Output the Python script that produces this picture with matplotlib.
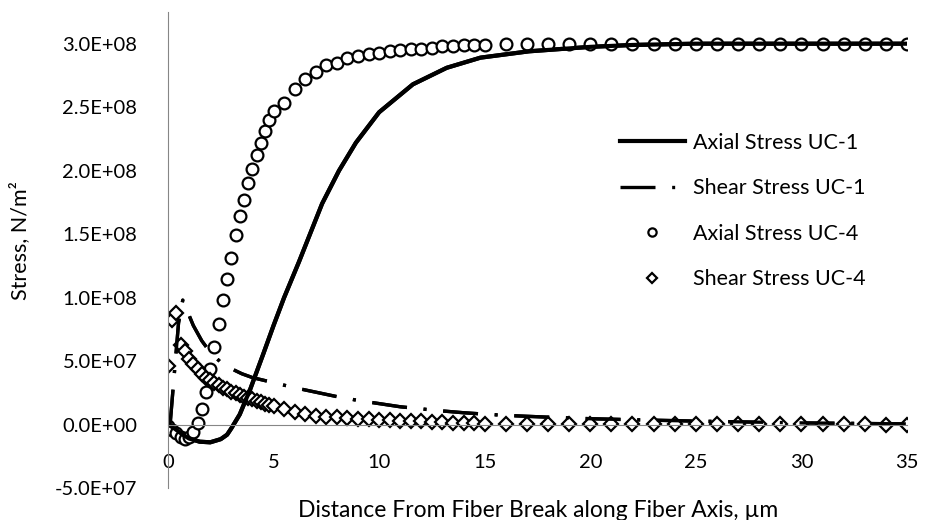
import numpy as np
from matplotlib import pyplot as plt
from matplotlib.ticker import FuncFormatter, MultipleLocator

plt.rcParams['font.family'] = ['Lato', 'DejaVu Sans']

# Axial stress UC-1 (solid line), stress in N/m^2
axial1_x = [0, 0.3, 0.7, 1.0, 1.5, 2.0, 2.5, 2.8, 3.0, 3.4, 3.9, 4.5, 5.0, 5.5,
            6.2, 7.3, 8.1, 8.9, 10.0, 11.6, 13.2, 14.8, 17.1, 20, 22, 25, 30, 35]
axial1_y = [0, -3e6, -8e6, -11e6, -13.5e6, -14e6, -11.5e6, -8e6, -3e6, 8e6, 28e6,
            55e6, 78e6, 100e6, 128e6, 174e6, 200e6, 222e6, 246e6, 268e6, 281e6,
            289e6, 294e6, 297.5e6, 299e6, 300e6, 300e6, 300e6]

# Shear stress UC-1 (long dash dot)
shear1_x = [0.1, 0.3, 0.5, 0.7, 0.9, 1.2, 1.6, 2.0, 2.5, 3.0, 3.5, 4.0, 5.0, 6.0,
            7.0, 8.0, 9.0, 10, 11, 12, 13, 14, 15, 16, 18, 20, 22, 25, 30, 35]
shear1_y = [0, 40e6, 80e6, 98e6, 90e6, 78e6, 66e6, 57e6, 49e6, 44e6, 40e6, 37e6,
            33e6, 29e6, 25.5e6, 22e6, 19e6, 16.5e6, 14e6, 12.3e6, 10.7e6, 9.3e6,
            8.2e6, 7.2e6, 5.8e6, 4.6e6, 3.8e6, 2.7e6, 1.3e6, 0.5e6]

# UC-4 sample positions (um)
uc4_x = ([round(0.2 * i, 1) for i in range(26)]
         + [5.5 + 0.5 * i for i in range(20)]
         + list(range(16, 36)))

# Axial stress UC-4 (circles)
axial4_y = [-1e6, -4e6, -7e6, -10e6, -11e6, -10e6, -6e6, 1e6, 12e6, 26e6, 44e6,
            61e6, 79e6, 98e6, 115e6, 131e6, 149e6, 164e6, 177e6, 190e6, 201e6,
            212e6, 222e6, 231e6, 240e6, 247e6,
            253e6, 264e6, 272e6, 278e6, 283e6, 285e6, 289e6, 290e6, 292e6, 293e6,
            294e6, 295e6, 296e6, 296e6, 297e6, 298e6, 298e6, 299e6, 299e6, 299e6,
            300e6, 300e6, 300e6, 300e6, 300e6, 300e6, 300e6, 300e6, 300e6, 300e6,
            300e6, 300e6, 300e6, 300e6, 300e6, 300e6, 300e6, 300e6, 300e6, 300e6]

# Shear stress UC-4 (diamonds)
shear4_y = [46e6, 82e6, 88e6, 63e6, 58e6, 52e6, 48e6, 44e6, 40e6, 37e6, 35e6,
            33e6, 31e6, 29e6, 28e6, 26e6, 24.5e6, 23e6, 22e6, 21e6, 20e6, 18.5e6,
            17.5e6, 16.5e6, 15.5e6, 14.5e6,
            12e6, 10e6, 8.5e6, 7e6, 6.3e6, 5.6e6, 5e6, 4.6e6, 4.2e6, 3.8e6, 3.4e6,
            3e6, 2.7e6, 2.4e6, 2.1e6, 1.8e6, 1.5e6, 1.2e6, 1e6, 0.8e6,
            0.6e6, 0.55e6, 0.5e6, 0.45e6, 0.4e6, 0.35e6, 0.3e6, 0.3e6, 0.25e6, 0.2e6,
            0.2e6, 0.15e6, 0.15e6, 0.1e6, 0.1e6, 0.1e6, 0.05e6, 0.05e6, 0.0, 0.0]

dashdot = (0, (10.5, 5, 0.9, 5))

fig = plt.figure(figsize=(9.25, 5.2), dpi=100)
ax = fig.add_axes([0.1816, 0.0615, 0.7989, 0.9155])

ax.plot(axial1_x, axial1_y, color='black', lw=3, label='Axial Stress UC-1')
ax.plot(shear1_x, shear1_y, color='black', lw=2.4, linestyle=dashdot,
        label='Shear Stress UC-1')
ax.plot(uc4_x, axial4_y, linestyle='none', marker='o', ms=8.5, mfc='white',
        mec='black', mew=1.6, label='Axial Stress UC-4')
ax.plot(uc4_x, shear4_y, linestyle='none', marker='D', ms=7, mfc='white',
        mec='black', mew=1.6, label='Shear Stress UC-4')
# redraw curves over markers
ax.plot(axial1_x, axial1_y, color='black', lw=3)
ax.plot(shear1_x, shear1_y, color='black', lw=2.4, linestyle=dashdot)

ax.set_xlim(0, 35)
ax.set_ylim(-5e7, 3.25e8)
ax.xaxis.set_major_locator(MultipleLocator(5))
ax.yaxis.set_major_locator(MultipleLocator(5e7))
ax.yaxis.set_major_formatter(FuncFormatter(lambda v, p: f"{v:.1E}"))

for s in ['top', 'right']:
    ax.spines[s].set_visible(False)
ax.spines['bottom'].set_position(('data', 0))
ax.spines['bottom'].set_color('#868686')
ax.spines['left'].set_color('#868686')
ax.tick_params(axis='both', length=0, labelsize=14.5, labelcolor='black')
ax.tick_params(axis='x', pad=21)
ax.tick_params(axis='y', pad=22)

fig.text(0.5816, 0.019, 'Distance From Fiber Break along Fiber Axis, µm',
         ha='center', va='center', fontsize=16.5)
fig.text(0.021, 0.537, 'Stress, N/m²', ha='center', va='center',
         rotation=90, fontsize=15.5)

ax.legend(loc='upper left', bbox_to_anchor=(0.6, 0.764), frameon=False,
          fontsize=15.5, handlelength=3.0, handletextpad=0.4,
          labelspacing=1.18, borderaxespad=0, numpoints=1, markerscale=0.7)

fig.savefig('out.png', dpi=100)
